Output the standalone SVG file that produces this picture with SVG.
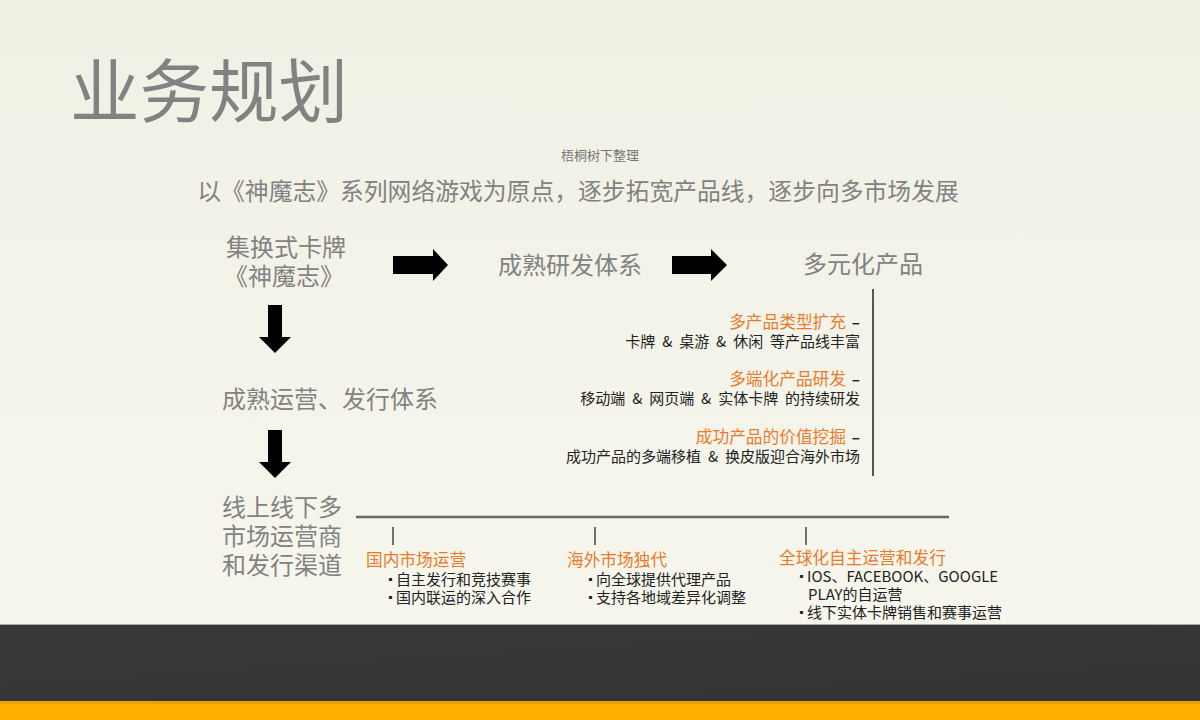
<svg xmlns="http://www.w3.org/2000/svg" width="1200" height="720" viewBox="0 0 1200 720">
<defs>
<linearGradient id="bg" x1="0" y1="0" x2="0" y2="1">
<stop offset="0" stop-color="#f1f0e5"/>
<stop offset="1" stop-color="#f8f7ee"/>
</linearGradient>
<linearGradient id="band" x1="0" y1="0" x2="1" y2="1">
<stop offset="0" stop-color="#38383b"/>
<stop offset="1" stop-color="#333235"/>
</linearGradient>
<style>
text{font-family:"Microsoft YaHei","Noto Sans CJK SC","Noto Sans",sans-serif}
.gray{fill:#828282}
.big{font-size:24px}
.or{fill:#e87b2c;font-size:16.7px}
.blk{fill:#222;font-size:15px;word-spacing:3.5px}
.sm{fill:#222;font-size:15px}
.bul{fill:#222;font-size:11px}
.arrow{fill:#000}
.ln{stroke:#666;stroke-width:2.5;fill:none}
.tick{stroke:#444;stroke-width:1.5}
</style>
</defs>
<rect width="1200" height="720" fill="url(#bg)"/>
<rect x="0" y="624" width="1200" height="77" fill="url(#band)"/>
<line x1="0" y1="624.5" x2="1200" y2="624.5" stroke="#aaa" stroke-width="1"/>
<rect x="0" y="701" width="1200" height="19" fill="#fdb000"/>
<rect x="0" y="701" width="1200" height="3" fill="#d89a10" opacity="0.6"/>

<g id="title">
<text x="70" y="117" class="gray" font-size="69.5">业务规划</text>
</g>
<g id="note">
<text x="600" y="160" text-anchor="middle" fill="#777" font-size="13" font-family="Noto Sans CJK SC,serif">梧桐树下整理</text>
</g>
<g id="subtitle">
<text x="578" y="200" text-anchor="middle" class="gray" font-size="23.8">以《神魔志》系列网络游戏为原点，逐步拓宽产品线，逐步向多市场发展</text>
</g>

<g id="node-card">
<text x="286" y="256" text-anchor="middle" class="gray big">集换式卡牌</text>
<text x="284" y="285" text-anchor="middle" class="gray big">《神魔志》</text>
</g>
<g id="node-rd">
<text x="570" y="274" text-anchor="middle" class="gray big">成熟研发体系</text>
</g>
<g id="node-multi">
<text x="863" y="273" text-anchor="middle" class="gray big">多元化产品</text>
</g>
<g id="node-ops">
<text x="330" y="408" text-anchor="middle" class="gray big">成熟运营、发行体系</text>
</g>
<g id="node-channels">
<text x="222" y="516" class="gray big">线上线下多</text>
<text x="222" y="545" class="gray big">市场运营商</text>
<text x="222" y="574" class="gray big">和发行渠道</text>
</g>

<g id="connectors">
<polygon class="arrow" points="393,256 433,256 433,249 448,265 433,281 433,274 393,274"/>
<polygon class="arrow" points="672,256 711,256 711,249 727,265 711,281 711,274 672,274"/>
<polygon class="arrow" points="268,305 282,305 282,337 291,337 275,353 259,337 268,337"/>
<polygon class="arrow" points="268,430 282,430 282,462 291,462 275,478 259,462 268,462"/>
<line x1="873" y1="289" x2="873" y2="476" stroke="#555" stroke-width="2"/>
<line class="ln" x1="356" y1="517" x2="949" y2="517"/>
<line class="tick" x1="393" y1="527" x2="393" y2="545"/>
<line class="tick" x1="595" y1="527" x2="595" y2="545"/>
<line class="tick" x1="806" y1="527" x2="806" y2="545"/>
</g>

<g id="right-list">
<text x="846" y="328" text-anchor="end" class="or">多产品类型扩充</text>
<text x="860" y="328" text-anchor="end" class="blk" font-weight="bold">–</text>
<text x="860" y="347" text-anchor="end" class="blk">卡牌 &amp; 桌游 &amp; 休闲 等产品线丰富</text>
<text x="846" y="385" text-anchor="end" class="or">多端化产品研发</text>
<text x="860" y="385" text-anchor="end" class="blk" font-weight="bold">–</text>
<text x="860" y="404" text-anchor="end" class="blk">移动端 &amp; 网页端 &amp; 实体卡牌 的持续研发</text>
<text x="846" y="443" text-anchor="end" class="or">成功产品的价值挖掘</text>
<text x="860" y="443" text-anchor="end" class="blk" font-weight="bold">–</text>
<text x="860" y="462" text-anchor="end" class="blk">成功产品的多端移植 &amp; 换皮版迎合海外市场</text>
</g>

<g id="col-domestic">
<text x="366" y="566" class="or">国内市场运营</text>
<text x="385" y="584" class="bul">▪</text>
<text x="396" y="585" class="sm">自主发行和竞技赛事</text>
<text x="385" y="602" class="bul">▪</text>
<text x="396" y="603" class="sm">国内联运的深入合作</text>
</g>
<g id="col-overseas">
<text x="567" y="566" class="or">海外市场独代</text>
<text x="585" y="584" class="bul">▪</text>
<text x="596" y="585" class="sm">向全球提供代理产品</text>
<text x="585" y="602" class="bul">▪</text>
<text x="596" y="603" class="sm">支持各地域差异化调整</text>
</g>
<g id="col-global">
<text x="779" y="564" class="or">全球化自主运营和发行</text>
<text x="796" y="581" class="bul">▪</text>
<text x="807" y="582" class="sm">IOS、FACEBOOK、GOOGLE</text>
<text x="808" y="600" class="sm">PLAY的自运营</text>
<text x="796" y="617" class="bul">▪</text>
<text x="807" y="618" class="sm">线下实体卡牌销售和赛事运营</text>
</g>
</svg>
